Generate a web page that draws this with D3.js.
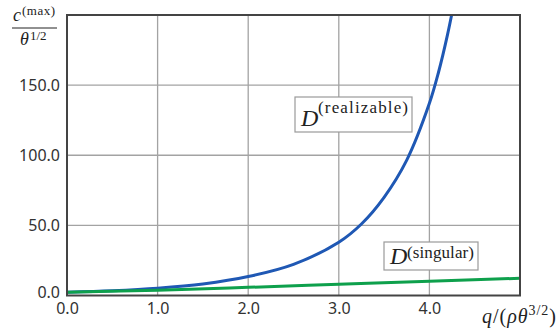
<!DOCTYPE html>
<html>
<head>
<meta charset="utf-8">
<script src="https://cdn.jsdelivr.net/npm/d3@7"></script>
<style>
  body { margin: 0; background: #fff; }
  svg { display: block; }
</style>
</head>
<body>
<div id="chart"></div>
<script>
// values
const qRealizable = [0, 0.5, 1, 1.5, 2, 2.5, 3, 3.25, 3.5, 3.75, 4, 4.1, 4.2, 4.3];
const cRealizable = [2.3, 3.4, 5.2, 8.2, 13.5, 22.2, 38, 51, 70, 96.5, 137, 159, 186, 218];
const qSingular = [0, 1, 2, 3, 4, 5];
const cSingular = [2.3, 3.8, 5.8, 8.0, 10.2, 12.3];
const xTicks = [0, 1, 2, 3, 4];
const yTicks = [0, 50, 100, 150];

const W = 560, H = 334;
const M = { left: 67, right: 40, top: 15, bottom: 38.5 };

const svg = d3.select('#chart').append('svg').attr('width', W).attr('height', H);

const x = d3.scaleLinear().domain([0, 5]).range([M.left, W - M.right]);
const y = d3.scaleLinear().domain([0, 200]).range([H - M.bottom, M.top]);

svg.append('defs').append('clipPath').attr('id', 'clip-plot')
  .append('rect')
  .attr('x', M.left).attr('y', M.top)
  .attr('width', x(5) - M.left).attr('height', y(0) - M.top);

// grid
const grid = svg.append('g').attr('stroke', '#a3a3a3').attr('stroke-width', 1.3);
grid.selectAll('line.v').data(xTicks.slice(1)).join('line').attr('class', 'v')
  .attr('x1', d => x(d)).attr('x2', d => x(d))
  .attr('y1', y(0)).attr('y2', y(200));
grid.selectAll('line.h').data(yTicks.slice(1)).join('line').attr('class', 'h')
  .attr('x1', x(0)).attr('x2', x(5))
  .attr('y1', d => y(d)).attr('y2', d => y(d));

// tick labels through d3 axes
const fmt = d3.format('.1f');
const xAxis = svg.append('g').attr('transform', `translate(0,${y(0)})`)
  .call(d3.axisBottom(x).tickValues(xTicks).tickFormat(fmt).tickSize(0).tickPadding(7));
const yAxis = svg.append('g').attr('transform', `translate(${x(0)},0)`)
  .call(d3.axisLeft(y).tickValues(yTicks).tickFormat(fmt).tickSize(0).tickPadding(7));
[xAxis, yAxis].forEach(a => {
  a.select('.domain').remove();
  a.selectAll('text').attr('font-family', '"Noto Sans", sans-serif')
    .attr('font-size', 16).attr('fill', '#333');
});
yAxis.selectAll('.tick').filter(d => d === 0).select('text').attr('dy', '0.15em');

// curves
const line = d3.line().x(d => x(d[0])).y(d => y(d[1])).curve(d3.curveCatmullRom.alpha(0.5));
const plot = svg.append('g').attr('clip-path', 'url(#clip-plot)');
plot.append('path')
  .datum(d3.zip(qRealizable, cRealizable))
  .attr('d', line).attr('fill', 'none')
  .attr('stroke', '#1f58b4').attr('stroke-width', 3);
plot.append('path')
  .datum(d3.zip(qSingular, cSingular))
  .attr('d', line).attr('fill', 'none')
  .attr('stroke', '#0ea04c').attr('stroke-width', 3);

// frame
svg.append('rect')
  .attr('x', x(0)).attr('y', y(200))
  .attr('width', x(5) - x(0)).attr('height', y(0) - y(200))
  .attr('fill', 'none').attr('stroke', '#444').attr('stroke-width', 2);

// boxed curve labels
const serif = '"Liberation Serif", "DejaVu Serif", serif';
function boxLabel(bx, by, bw, bh, sup, supW) {
  svg.append('rect').attr('x', bx).attr('y', by).attr('width', bw).attr('height', bh)
    .attr('fill', '#fff').attr('stroke', '#9a9a9a').attr('stroke-width', 1.2);
  const t = svg.append('text').attr('x', bx + 6).attr('y', by + bh - 6)
    .attr('font-family', serif).attr('fill', '#222');
  t.append('tspan').attr('font-style', 'italic').attr('font-size', 24).text('D');
  svg.append('text').attr('x', bx + 23).attr('y', by + 16)
    .attr('font-family', serif).attr('font-size', 17).attr('fill', '#222')
    .attr('textLength', supW).attr('lengthAdjust', 'spacing').text(sup);
}
boxLabel(295, 97, 117, 35, '(realizable)', 90);
boxLabel(384, 242, 94, 28, '(singular)', 67);

// y axis label: c^(max) / theta^(1/2)
const yl = svg.append('g').attr('font-family', serif).attr('fill', '#222');
yl.append('text').attr('x', 13).attr('y', 21).attr('font-style', 'italic').attr('font-size', 18).text('c');
yl.append('text').attr('x', 22).attr('y', 15).attr('font-size', 13)
  .attr('textLength', 33).attr('lengthAdjust', 'spacing').text('(max)');
yl.append('line').attr('x1', 12).attr('x2', 57).attr('y1', 28).attr('y2', 28)
  .attr('stroke', '#222').attr('stroke-width', 1);
yl.append('text').attr('x', 20).attr('y', 45).attr('font-style', 'italic').attr('font-size', 18).text('θ');
yl.append('text').attr('x', 30).attr('y', 40).attr('font-size', 13).text('1/2');

// x axis label: q/(rho theta^(3/2))
const xl = svg.append('text').attr('x', 482).attr('y', 323)
  .attr('font-family', serif).attr('font-size', 20).attr('fill', '#222')
  .attr('textLength', 74).attr('lengthAdjust', 'spacing');
xl.append('tspan').attr('font-style', 'italic').text('q');
xl.append('tspan').text('/(');
xl.append('tspan').attr('font-style', 'italic').text('ρθ');
xl.append('tspan').attr('font-size', 14).attr('dy', -8).text('3/2');
xl.append('tspan').attr('dy', 8).text(')');
</script>
</body>
</html>
